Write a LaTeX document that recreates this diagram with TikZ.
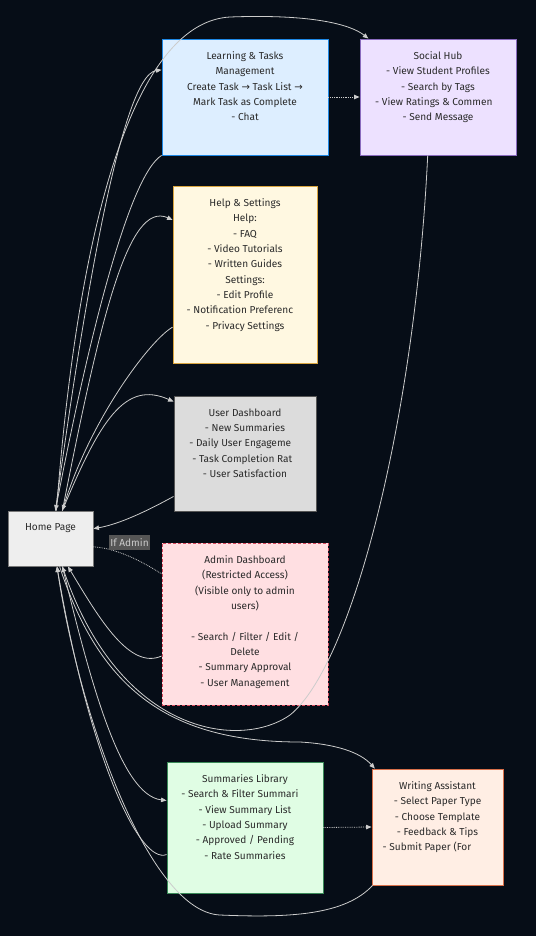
\documentclass[tikz,border=0pt]{standalone}
\usepackage{fontspec}
\setmainfont{Fira Sans}
\newfontfamily\arrowfont{DejaVu Sans}
\usetikzlibrary{arrows.meta}

\definecolor{bgcol}{HTML}{060D17}
\definecolor{txtcol}{HTML}{2A2A2A}
\definecolor{linkcol}{HTML}{CCCCCC}
\definecolor{lblbg}{HTML}{555555}
\definecolor{lbltxt}{HTML}{CCCCCC}

\begin{document}
\begin{tikzpicture}[
    x=1pt, y=-1pt,
    font=\fontsize{10.1}{15.3}\selectfont,
    box/.style={draw, line width=0.9pt, inner sep=0pt},
    lbl/.style={anchor=north, yshift=-13pt, inner sep=0pt, align=center, text=txtcol},
    link/.style={draw=linkcol, line width=0.8pt, -{Triangle[length=5.5pt,width=4.5pt]}},
    dlink/.style={link, densely dotted},
    elabel/.style={fill=lblbg, text=lbltxt, inner xsep=1pt, inner ysep=0pt, minimum height=15pt}
]
    % Background and frame
    \fill[bgcol] (0,0) rectangle (536,936);
    \useasboundingbox (0,0) rectangle (536,936);

    % Home
    \node[box, fill={rgb,255:red,238;green,238;blue,238}, draw={rgb,255:red,120;green,120;blue,120},
        minimum width=85, minimum height=55,
        label={[lbl]north:{Home Page}}] (home) at (50.5,538.5) {};

    % Top row
    \node[box, fill={rgb,255:red,221;green,238;blue,255}, draw={rgb,255:red,30;green,136;blue,229},
        minimum width=166, minimum height=116,
        label={[lbl]north:{Learning \& Tasks\\Management\\Create Task {\arrowfont→} Task List {\arrowfont→}\\Mark Task as Complete\\- Chat}}] (learn) at (245,97) {};
    \node[box, fill={rgb,255:red,237;green,225;blue,255}, draw={rgb,255:red,138;green,107;blue,190},
        minimum width=156, minimum height=116,
        label={[lbl]north:{Social Hub\\- View Student Profiles\\- Search by Tags\\- View Ratings \& Commen\phantom{ts}\\- Send Message}}] (social) at (438,97) {};

    % Middle column
    \node[box, fill={rgb,255:red,255;green,248;blue,225}, draw={rgb,255:red,217;green,165;blue,63},
        minimum width=144, minimum height=177,
        label={[lbl]north:{Help \& Settings\\Help:\\- FAQ\\- Video Tutorials\\- Written Guides\\Settings:\\- Edit Profile\\- Notification Preferenc\phantom{es}\\- Privacy Settings}}] (help) at (245,274.5) {};
    \node[box, fill={rgb,255:red,220;green,220;blue,220}, draw={rgb,255:red,85;green,85;blue,85},
        minimum width=142, minimum height=115,
        label={[lbl]north:{User Dashboard\\- New Summaries\\- Daily User Engageme\phantom{nt}\\- Task Completion Rat\phantom{e}\\- User Satisfaction}}] (dash) at (245,453.5) {};
    \node[box, dashed, dash pattern=on 3pt off 2pt, fill={rgb,255:red,255;green,223;blue,226}, draw={rgb,255:red,217;green,74;blue,95},
        minimum width=166, minimum height=162,
        label={[lbl]north:{Admin Dashboard\\(Restricted Access)\\(Visible only to admin\\users)\\[15.3pt]- Search / Filter / Edit /\\Delete\\- Summary Approval\\- User Management}}] (admin) at (245,624) {};

    % Bottom row
    \node[box, fill={rgb,255:red,224;green,253;blue,228}, draw={rgb,255:red,58;green,138;blue,88},
        minimum width=156, minimum height=131,
        label={[lbl]north:{Summaries Library\\- Search \& Filter Summari\phantom{es}\\- View Summary List\\- Upload Summary\\- Approved / Pending\\- Rate Summaries}}] (summ) at (245,827.5) {};
    \node[box, fill={rgb,255:red,255;green,238;blue,228}, draw={rgb,255:red,217;green,112;blue,74},
        minimum width=131, minimum height=116,
        label={[lbl]north:{Writing Assistant\\- Select Paper Type\\- Choose Template\\- Feedback \& Tips\\- Submit Paper (For\phantom{mat)}}}] (write) at (437.5,827) {};

    % Links out of and back to Home
    \draw[link] (home.80) .. controls (80,330) and (120,75) .. (learn.162.6);
    \draw[link] (learn.south west) .. controls (130,175) and (90,330) .. (home.80);
    \draw[link] (home.78) .. controls (80,200) and (140,22) .. (230,17) .. controls (310,14) and (350,24) .. (social.140.4);
    \draw[link] (social.260) .. controls (415,420) and (352,665) .. (290,715) .. controls (240,750) and (120,735) .. (home.293);
    \draw[link] (home.67) .. controls (100,320) and (128,200) .. (help.143.9);
    \draw[link] (help.216.1) .. controls (150,340) and (90,420) .. (home.67);
    \draw[link] (home.67) .. controls (100,420) and (125,380) .. (dash.144.6);
    \draw[link] (dash.211.5) .. controls (140,515) and (115,525) .. (home.13.9);
    \draw[linkcol, line width=0.8pt, densely dotted] (home.-11.3) .. controls (115,548) and (140,560) .. node[elabel, pos=0.4, xshift=9pt, yshift=10pt] (ifadmin) {If Admin} (admin.149.4);
    \draw[link] (admin.201.7) .. controls (130,670) and (100,620) .. (home.302);
    \draw[link] (home.288) .. controls (100,690) and (170,742) .. (300,742) .. controls (335,744) and (360,752) .. (write.137.1);
    \draw[link] (home.293) .. controls (90,680) and (120,795) .. (summ.161.2);
    \draw[link] (summ.199.4) .. controls (140,865) and (90,760) .. (home.283);
    \draw[link] (write.222.9) .. controls (345,915) and (290,918) .. (220,915) .. controls (150,912) and (80,720) .. (home.283);

    % Side links
    \draw[dlink] (learn.east) -- (social.west);
    \draw[dlink] (summ.east) -- (write.west);
\end{tikzpicture}
\end{document}
